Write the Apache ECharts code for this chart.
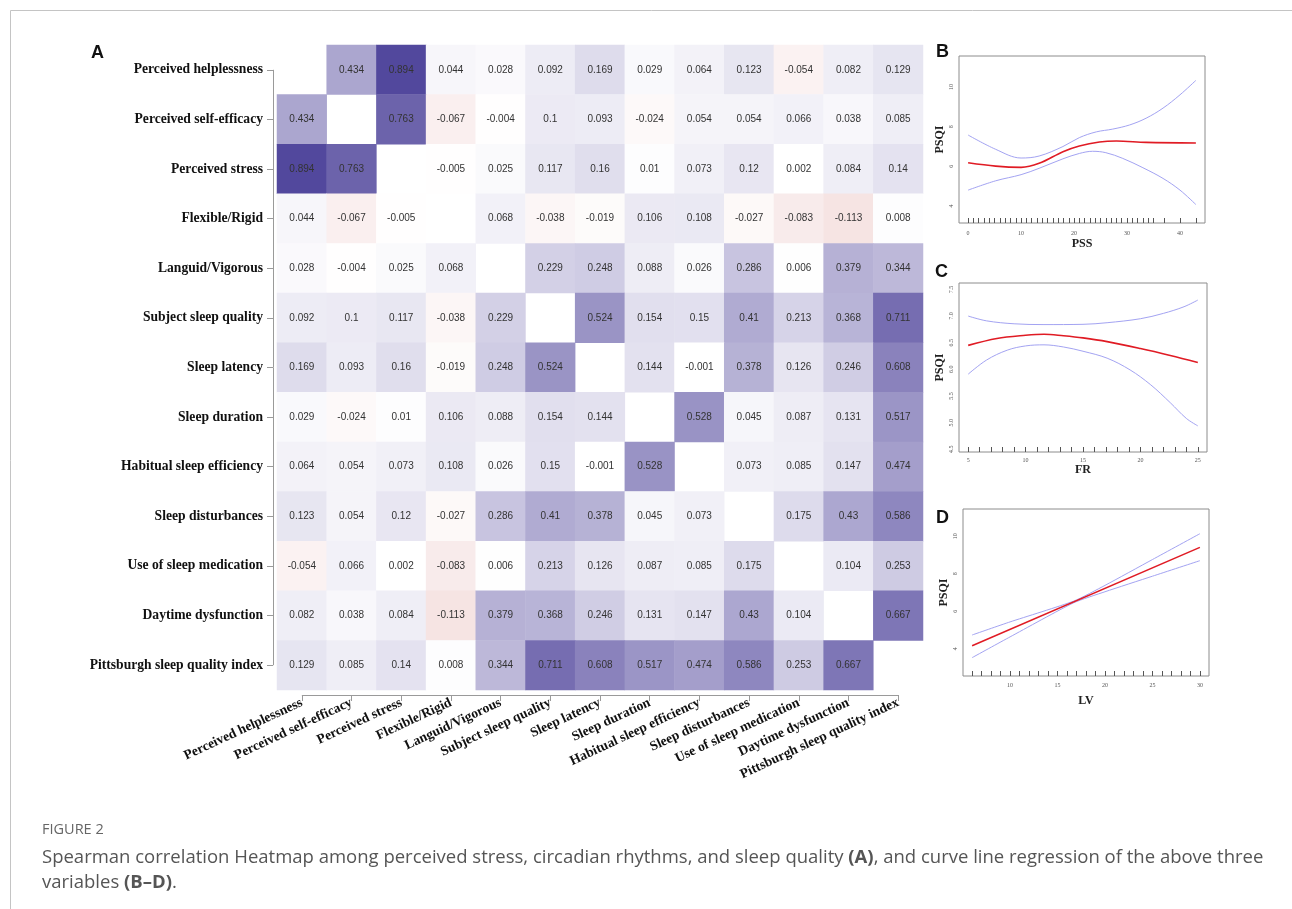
<!DOCTYPE html>
<html>
<head>
<meta charset="utf-8">
<script src="https://cdn.jsdelivr.net/npm/echarts@6/dist/echarts.min.js"></script>
<style>
  html, body { margin: 0; padding: 0; background: #ffffff; }
  #main { width: 1292px; height: 909px; }
</style>
</head>
<body>
<div id="main"></div>
<script>
// Variables of the Spearman correlation matrix (rows top to bottom, columns left to right)
const variables = [
  'Perceived helplessness', 'Perceived self-efficacy', 'Perceived stress',
  'Flexible/Rigid', 'Languid/Vigorous', 'Subject sleep quality', 'Sleep latency',
  'Sleep duration', 'Habitual sleep efficiency', 'Sleep disturbances',
  'Use of sleep medication', 'Daytime dysfunction', 'Pittsburgh sleep quality index'
];

// Correlation coefficients; null on the diagonal (left blank)
const corrRows = [
  [null, 0.434, 0.894, 0.044, 0.028, 0.092, 0.169, 0.029, 0.064, 0.123, -0.054, 0.082, 0.129],
  [0.434, null, 0.763, -0.067, -0.004, 0.1, 0.093, -0.024, 0.054, 0.054, 0.066, 0.038, 0.085],
  [0.894, 0.763, null, -0.005, 0.025, 0.117, 0.16, 0.01, 0.073, 0.12, 0.002, 0.084, 0.14],
  [0.044, -0.067, -0.005, null, 0.068, -0.038, -0.019, 0.106, 0.108, -0.027, -0.083, -0.113, 0.008],
  [0.028, -0.004, 0.025, 0.068, null, 0.229, 0.248, 0.088, 0.026, 0.286, 0.006, 0.379, 0.344],
  [0.092, 0.1, 0.117, -0.038, 0.229, null, 0.524, 0.154, 0.15, 0.41, 0.213, 0.368, 0.711],
  [0.169, 0.093, 0.16, -0.019, 0.248, 0.524, null, 0.144, -0.001, 0.378, 0.126, 0.246, 0.608],
  [0.029, -0.024, 0.01, 0.106, 0.088, 0.154, 0.144, null, 0.528, 0.045, 0.087, 0.131, 0.517],
  [0.064, 0.054, 0.073, 0.108, 0.026, 0.15, -0.001, 0.528, null, 0.073, 0.085, 0.147, 0.474],
  [0.123, 0.054, 0.12, -0.027, 0.286, 0.41, 0.378, 0.045, 0.073, null, 0.175, 0.43, 0.586],
  [-0.054, 0.066, 0.002, -0.083, 0.006, 0.213, 0.126, 0.087, 0.085, 0.175, null, 0.104, 0.253],
  [0.082, 0.038, 0.084, -0.113, 0.379, 0.368, 0.246, 0.131, 0.147, 0.43, 0.104, null, 0.667],
  [0.129, 0.085, 0.14, 0.008, 0.344, 0.711, 0.608, 0.517, 0.474, 0.586, 0.253, 0.667, null]
];

// Panel B: PSQI against PSS (fitted curve and confidence band)
const bFit = [[0, 6.18], [5.2, 6.01], [10, 5.95], [13.4, 6.15], [17.9, 6.74], [21, 7.03], [24.8, 7.23], [28, 7.28], [33.6, 7.21], [43, 7.18]];
const bUpper = [[0, 7.58], [5.2, 6.86], [10, 6.42], [13.4, 6.52], [17.9, 7.0], [21, 7.45], [24.2, 7.74], [27.3, 7.88], [30.5, 8.09], [33.6, 8.43], [36.8, 8.94], [40, 9.61], [43, 10.34]];
const bLower = [[0, 4.80], [5.2, 5.27], [10, 5.58], [13.4, 5.9], [17.9, 6.38], [21, 6.65], [23.5, 6.76], [26, 6.69], [29.2, 6.40], [33, 5.93], [36.8, 5.39], [40, 4.8], [43, 4.07]];
const pssRug = [0, 1, 2, 3, 4, 5, 6, 7, 8, 9, 10, 11, 12, 13, 14, 15, 16, 17, 18, 19, 20, 21, 22, 23, 24, 25, 26, 27, 28, 29, 30, 31, 32, 33, 34, 35, 37, 40, 43];
const bXTicks = [0, 10, 20, 30, 40];
const bYTicks = [4, 6, 8, 10];

// Panel C: PSQI against FR
const cFit = [[5, 6.45], [7.5, 6.58], [10, 6.64], [11.6, 6.66], [13.3, 6.63], [15, 6.59], [17.1, 6.52], [20, 6.39], [22.6, 6.26], [25, 6.13]];
const cUpper = [[5, 7.0], [6.6, 6.91], [9, 6.855], [11.6, 6.84], [15, 6.845], [17.1, 6.875], [20, 6.95], [22, 7.05], [23.8, 7.175], [25, 7.3]];
const cLower = [[5, 5.91], [6.6, 6.175], [8.4, 6.36], [10, 6.44], [11.6, 6.46], [13.3, 6.42], [15, 6.34], [17.1, 6.21], [19.1, 5.99], [20.9, 5.71], [22.6, 5.375], [24, 5.08], [25, 4.94]];
const frRug = [5, 6, 7, 8, 9, 10, 11, 12, 13, 14, 15, 16, 17, 18, 19, 20, 21, 22, 23, 24, 25];
const cXTicks = [5, 10, 15, 20, 25];
const cYTicks = [4.5, 5.0, 5.5, 6.0, 6.5, 7.0, 7.5];

// Panel D: PSQI against LV
const dFit = [[6, 4.16], [30, 9.41]];
const dUpper = [[6, 4.73], [10, 5.43], [16.7, 6.54], [20, 7.38], [25, 8.76], [30, 10.14]];
const dLower = [[6, 3.52], [10, 4.63], [16.7, 6.45], [20, 7.04], [25, 7.87], [30, 8.70]];
const lvRug = [6, 7, 8, 9, 10, 11, 12, 13, 14, 15, 16, 17, 18, 19, 20, 21, 22, 23, 24, 25, 26, 27, 28, 29, 30];
const dXTicks = [10, 15, 20, 25, 30];
const dYTicks = [4, 6, 8, 10];

const SERIF = '"Liberation Serif", "Times New Roman", serif';
const SANS = '"Liberation Sans", Arial, sans-serif';
const CAPTION = '"Open Sans", sans-serif';
const FIT_RED = '#e01b24';
const BAND_BLUE = '#a3a3f2';
const BOX_GREY = '#8c8c8c';

const heatData = [];
corrRows.forEach((row, i) => {
  row.forEach((v, j) => {
    if (v !== null) heatData.push([j, i, v]);
  });
});

function regXAxis(gridIndex, min, max, ticks, rug, name, nameGap, margin) {
  return {
    type: 'value', gridIndex, min, max, name,
    nameLocation: 'middle', nameGap,
    nameTextStyle: { fontFamily: SERIF, fontWeight: 'bold', fontSize: 12, color: '#222' },
    axisLine: { show: false },
    splitLine: { show: false },
    axisTick: { show: true, inside: true, length: 5, customValues: rug, lineStyle: { color: '#555', width: 1 } },
    axisLabel: { customValues: ticks, fontSize: 6, color: '#555', fontFamily: SERIF, margin }
  };
}
function regYAxis(gridIndex, min, max, ticks, fmt) {
  return {
    type: 'value', gridIndex, min, max, name: 'PSQI',
    nameLocation: 'middle', nameGap: 13, nameRotate: 90,
    nameTextStyle: { fontFamily: SERIF, fontWeight: 'bold', fontSize: 12, color: '#222' },
    axisLine: { show: false },
    splitLine: { show: false },
    axisTick: { show: false },
    axisLabel: { customValues: ticks, rotate: 90, fontSize: 6, color: '#555', fontFamily: SERIF, margin: 5,
      formatter: fmt || (v => String(v)) }
  };
}
function curve(idx, data, color, width, smooth) {
  return {
    type: 'line', xAxisIndex: idx, yAxisIndex: idx, data,
    showSymbol: false, smooth: smooth, silent: true,
    lineStyle: { color, width }
  };
}
function panelTitle(text, left, top) {
  return { text, left, top, padding: 0, textStyle: { fontFamily: SANS, fontWeight: 'bold', fontSize: 18, color: '#111' } };
}

const chart = echarts.init(document.getElementById('main'), null, { renderer: 'canvas' });

const option = {
  backgroundColor: '#ffffff',
  animation: false,
  title: [
    panelTitle('A', 91, 44),
    panelTitle('B', 936, 43),
    panelTitle('C', 935, 263),
    panelTitle('D', 936, 509),
    { text: 'FIGURE 2', left: 42, top: 822, padding: 0,
      textStyle: { fontFamily: CAPTION, fontWeight: 'normal', fontSize: 14.5, color: '#666' } },
    {
      text: 'Spearman correlation Heatmap among perceived stress, circadian rhythms, and sleep quality {b|(A)}, and curve line regression of the above three\nvariables {b|(B\u2013D)}.',
      left: 42, top: 845, padding: 0,
      textStyle: {
        fontFamily: CAPTION, fontSize: 18.5, color: '#555', lineHeight: 25, fontWeight: 'normal',
        rich: { b: { fontFamily: CAPTION, fontSize: 18.5, fontWeight: 'bold', color: '#555', lineHeight: 25 } }
      }
    }
  ],
  grid: [
    { left: 277, top: 45, width: 646, height: 645 },
    { left: 959, top: 56, width: 246, height: 167, show: true, borderColor: BOX_GREY, borderWidth: 1, backgroundColor: 'transparent' },
    { left: 959, top: 283, width: 248, height: 169, show: true, borderColor: BOX_GREY, borderWidth: 1, backgroundColor: 'transparent' },
    { left: 963, top: 509, width: 246, height: 167, show: true, borderColor: BOX_GREY, borderWidth: 1, backgroundColor: 'transparent' }
  ],
  xAxis: [
    {
      type: 'category', gridIndex: 0, data: variables, position: 'bottom', offset: 5,
      axisLine: { show: false },
      axisTick: { show: true, alignWithLabel: true, length: 6, lineStyle: { color: '#9a9a9a' } },
      axisLabel: { rotate: 25, interval: 0, margin: 7, fontFamily: SERIF, fontWeight: 'bold', fontSize: 13.6, color: '#111' },
      splitLine: { show: false }
    },
    regXAxis(1, -1.72, 44.72, bXTicks, pssRug, 'PSS', 15, 7),
    regXAxis(2, 4.2, 25.8, cXTicks, frRug, 'FR', 11, 5),
    regXAxis(3, 5.04, 30.96, dXTicks, lvRug, 'LV', 19, 6)
  ],
  yAxis: [
    {
      type: 'category', gridIndex: 0, data: variables, inverse: true, offset: 4,
      axisLine: { show: false },
      axisTick: { show: true, alignWithLabel: true, length: 6, lineStyle: { color: '#9a9a9a' } },
      axisLabel: { interval: 0, margin: 10, fontFamily: SERIF, fontWeight: 'bold', fontSize: 13.6, color: '#111' },
      splitLine: { show: false }
    },
    regYAxis(1, 3.14, 11.57, bYTicks),
    regYAxis(2, 4.45, 7.62, cYTicks, v => v.toFixed(1)),
    regYAxis(3, 2.54, 11.46, dYTicks)
  ],
  visualMap: {
    type: 'continuous', show: false, min: -1, max: 1, seriesIndex: 0, dimension: 2,
    inRange: { color: ['#af140a', '#ffffff', '#3e3291'] }
  },
  series: [
    {
      type: 'heatmap', xAxisIndex: 0, yAxisIndex: 0, data: heatData,
      label: { show: true, formatter: p => String(p.value[2]), fontFamily: SANS, fontSize: 10, color: '#333' },
      itemStyle: { borderWidth: 0 },
      emphasis: { disabled: true }
    },
    curve(1, bUpper, BAND_BLUE, 1, 0.35), curve(1, bLower, BAND_BLUE, 1, 0.35), curve(1, bFit, FIT_RED, 1.6, 0.35),
    curve(2, cUpper, BAND_BLUE, 1, 0.35), curve(2, cLower, BAND_BLUE, 1, 0.35), curve(2, cFit, FIT_RED, 1.6, 0.35),
    curve(3, dUpper, BAND_BLUE, 1, 0.2), curve(3, dLower, BAND_BLUE, 1, 0.2), curve(3, dFit, FIT_RED, 1.6, false)
  ],
  graphic: [
    { id: 'frame', type: 'rect', silent: true, shape: { x: 10.5, y: 10.5, width: 1400, height: 1000 },
      style: { fill: 'none', stroke: '#c4c4c4', lineWidth: 1 } }
  ]
};

chart.setOption(option);

// Heatmap axis lines span only from the first to the last tick
const xFirst = chart.convertToPixel({ xAxisIndex: 0 }, variables[0]);
const xLast = chart.convertToPixel({ xAxisIndex: 0 }, variables[variables.length - 1]);
const yFirst = chart.convertToPixel({ yAxisIndex: 0 }, variables[0]);
const yLast = chart.convertToPixel({ yAxisIndex: 0 }, variables[variables.length - 1]);
const xBand = (xLast - xFirst) / (variables.length - 1);
const yBand = (yLast - yFirst) / (variables.length - 1);
const axisY = Math.round(yLast + yBand / 2 + 5) + 0.5;
const axisX = Math.round(xFirst - xBand / 2 - 4) + 0.5;

chart.setOption({
  graphic: [
    { id: 'frame', type: 'rect', silent: true, shape: { x: 10.5, y: 10.5, width: 1400, height: 1000 },
      style: { fill: 'none', stroke: '#c4c4c4', lineWidth: 1 } },
    { id: 'xline', type: 'line', silent: true, shape: { x1: xFirst, y1: axisY, x2: xLast, y2: axisY },
      style: { stroke: '#9a9a9a', lineWidth: 1 } },
    { id: 'yline', type: 'line', silent: true, shape: { x1: axisX, y1: yFirst, x2: axisX, y2: yLast },
      style: { stroke: '#9a9a9a', lineWidth: 1 } }
  ]
});
</script>
</body>
</html>
